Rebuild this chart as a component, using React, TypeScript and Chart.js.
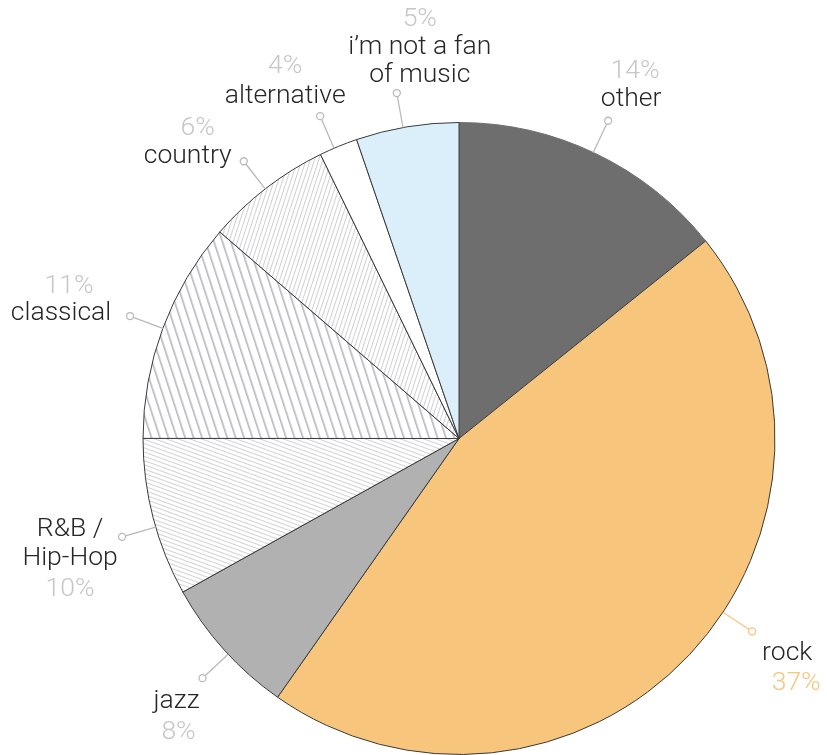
import React, { useEffect, useRef } from "react";
import { Chart, registerables } from "chart.js";
Chart.register(...registerables);

// ---- data ----
const categories = ["other", "rock", "jazz", "R&B / Hip-Hop", "classical", "country", "alternative", "i’m not a fan of music"];
const sliceValues = [14.25, 45.47, 7.19, 8.08, 11.33, 6.44, 1.97, 5.25];
const percentLabels = ["14%", "37%", "8%", "10%", "11%", "6%", "4%", "5%"];
const nameLines = [["other"], ["rock"], ["jazz"], ["R&B /", "Hip-Hop"], ["classical"], ["country"], ["alternative"], ["i’m not a fan", "of music"]];
const percentFirst = [true, false, false, false, true, true, true, true];

// ---- styling / layout (not data) ----
const fills = ["#6e6e6e", "#f7c57c", "#b1b1b1", "hatchRB", "hatchClassical", "hatchCountry", "#ffffff", "#dbeffb"];
const leaderFrac = [0.49, 0.44, 0.46, 0.44, 0.5, 0.49, 0.38, 0.46];
// per label: text line centers (dx) and baselines (dy) relative to the leader's end circle, in display order
const lineOffsets: number[][][] = [
  [[27, -43], [23, -15]],
  [[35, 29], [44, 59]],
  [[-26, 30], [-24, 61]],
  [[-52, -1], [-52, 28], [-52, 59]],
  [[-61, -23], [-69, 4]],
  [[-46, -26], [-56, 2]],
  [[-35, -43], [-35, -13]],
  [[23, -67], [23, -39], [23, -11]],
];

function makeHatch(spacing: number, lw: number, color: string, angle: number) {
  const c = document.createElement("canvas");
  c.width = spacing;
  c.height = 16;
  const ctx = c.getContext("2d")!;
  ctx.fillStyle = "#ffffff";
  ctx.fillRect(0, 0, c.width, c.height);
  ctx.fillStyle = color;
  ctx.fillRect(0, 0, lw, c.height);
  const p = ctx.createPattern(c, "repeat")!;
  p.setTransform(new DOMMatrix().rotate(angle));
  return p as any;
}

const labelPlugin = {
  id: "pieLabels",
  afterDraw(chart: any) {
    const meta = chart.getDatasetMeta(0);
    const ctx = chart.ctx as CanvasRenderingContext2D;
    ctx.save();
    meta.data.forEach((arc: any, i: number) => {
      const { x, y, startAngle, endAngle, outerRadius } = arc.getProps(["x", "y", "startAngle", "endAngle", "outerRadius"], true);
      const a = startAngle + (endAngle - startAngle) * leaderFrac[i];
      const r0 = outerRadius;
      const r1 = outerRadius + 35;
      const x0 = x + Math.cos(a) * r0, y0 = y + Math.sin(a) * r0;
      const cx = x + Math.cos(a) * r1, cy = y + Math.sin(a) * r1;
      const col = i === 1 ? "#f7c57c" : "#b9b9b9";
      const rr = 3.5;
      ctx.strokeStyle = col;
      ctx.lineWidth = 1.3;
      ctx.beginPath();
      ctx.moveTo(x0, y0);
      ctx.lineTo(cx - Math.cos(a) * rr, cy - Math.sin(a) * rr);
      ctx.stroke();
      ctx.beginPath();
      ctx.arc(cx, cy, rr, 0, Math.PI * 2);
      ctx.fillStyle = "#ffffff";
      ctx.fill();
      ctx.stroke();

      const lines: { t: string; pct: boolean }[] = [];
      const names = nameLines[i].map((t) => ({ t, pct: false }));
      const pc = { t: percentLabels[i], pct: true };
      if (percentFirst[i]) lines.push(pc, ...names);
      else lines.push(...names, pc);
      ctx.textAlign = "center";
      ctx.textBaseline = "alphabetic";
      ctx.font = "300 26.5px Roboto";
      lines.forEach((ln, k) => {
        const off = lineOffsets[i][k];
        ctx.fillStyle = ln.pct ? (i === 1 ? "#f7c57c" : "#c6c6c6") : "#262626";
        ctx.fillText(ln.t, cx + off[0], cy + off[1]);
      });
    });
    ctx.restore();
  },
};

export default function App() {
  const ref = useRef<HTMLCanvasElement>(null);
  useEffect(() => {
    const hatches: Record<string, any> = {
      hatchRB: makeHatch(4, 1, "#d2d2d5", -70),
      hatchClassical: makeHatch(8, 1.6, "#b7b7be", -18),
      hatchCountry: makeHatch(4, 1, "#d0d0d3", 18),
    };
    const bg = fills.map((f) => hatches[f] || f);
    const borders = fills.map((f, i) => (i === 0 ? "#6e6e6e" : "#3a3a3a"));
    const chart = new Chart(ref.current!, {
      type: "pie",
      data: {
        labels: categories,
        datasets: [
          {
            data: sliceValues,
            backgroundColor: bg,
            borderColor: borders,
            borderWidth: 1,
          },
        ],
      },
      options: {
        responsive: false,
        animation: false,
        layout: { padding: { left: 142, right: 51, top: 122, bottom: 0 } },
        plugins: { legend: { display: false }, tooltip: { enabled: false } },
      },
      plugins: [labelPlugin],
    });
    return () => chart.destroy();
  }, []);
  return (
    <div style={{ position: "absolute", left: 0, top: 0, width: 827, height: 755, background: "#fff" }}>
      <canvas ref={ref} width={827} height={755} style={{ display: "block" }} />
    </div>
  );
}
